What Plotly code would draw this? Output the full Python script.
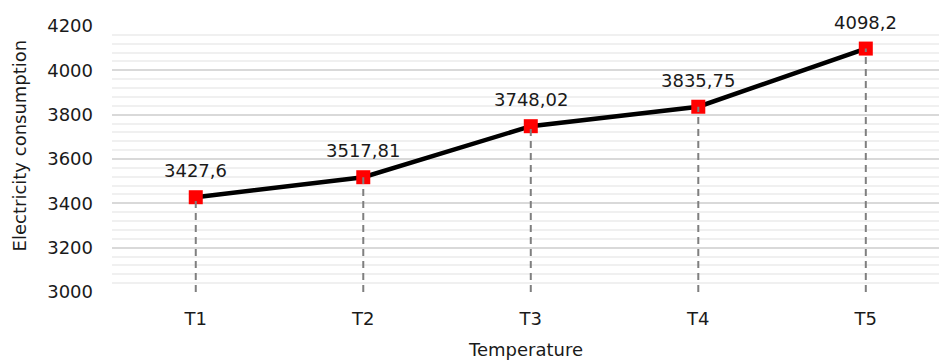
import plotly.graph_objects as go

# Electricity consumption per temperature level
categories = ["T1", "T2", "T3", "T4", "T5"]
consumption = [3427.6, 3517.81, 3748.02, 3835.75, 4098.2]
value_labels = ["3427,6", "3517,81", "3748,02", "3835,75", "4098,2"]
y_floor = 3000
y_ceiling = 4200

FONT = "DejaVu Sans"
TEXT = "#1a1a1a"
SIZE = 18

fig = go.Figure()

# main series: thick black line with red square markers
fig.add_trace(go.Scatter(
    x=categories, y=consumption,
    mode="lines+markers",
    line=dict(color="black", width=4.5),
    marker=dict(symbol="square", size=14, color="#ff0000", line=dict(width=0)),
    hoverinfo="skip",
))

# dashed drop lines from each point down to the axis floor
drop_x, drop_y = [], []
for c, v in zip(categories, consumption):
    drop_x += [c, c, None]
    drop_y += [y_floor, v, None]
fig.add_trace(go.Scatter(
    x=drop_x, y=drop_y, mode="lines",
    line=dict(color="#7f7f7f", width=2, dash="7px,5px"),
    hoverinfo="skip",
))

# value labels above each point
for c, v, lab in zip(categories, consumption, value_labels):
    fig.add_annotation(
        x=c, y=v, text=lab, showarrow=False,
        xanchor="center", yanchor="bottom", yshift=14,
        font=dict(family=FONT, size=SIZE, color=TEXT),
    )

# axis titles
fig.add_annotation(
    text="Electricity consumption", textangle=-90, showarrow=False,
    xref="paper", yref="paper", x=-0.1125, y=0.551,
    xanchor="center", yanchor="middle",
    font=dict(family=FONT, size=SIZE, color=TEXT),
)
fig.add_annotation(
    text="Temperature", showarrow=False,
    xref="paper", yref="paper", x=0.5, y=-0.263,
    xanchor="center", yanchor="bottom",
    font=dict(family=FONT, size=SIZE, color=TEXT),
)

fig.update_layout(
    width=939, height=364,
    margin=dict(l=112, r=0, t=26, b=72),
    paper_bgcolor="white", plot_bgcolor="white",
    showlegend=False,
    font=dict(family=FONT, size=SIZE, color=TEXT),
)
fig.update_xaxes(
    type="category",
    range=[-0.5, 4.437],
    showgrid=False, zeroline=False, showline=False,
    ticks="", ticklabelstandoff=14,
    tickfont=dict(family=FONT, size=SIZE, color=TEXT),
)
fig.update_yaxes(
    range=[y_floor, y_ceiling],
    dtick=200, tick0=0,
    showgrid=True, gridcolor="#d9d9d9", gridwidth=2,
    minor=dict(dtick=40, showgrid=True, gridcolor="#f0f0f0", gridwidth=2),
    zeroline=False, showline=False, ticks="",
    ticklabelstandoff=18,
    tickfont=dict(family=FONT, size=SIZE, color=TEXT),
)

fig.write_html("out.html")
